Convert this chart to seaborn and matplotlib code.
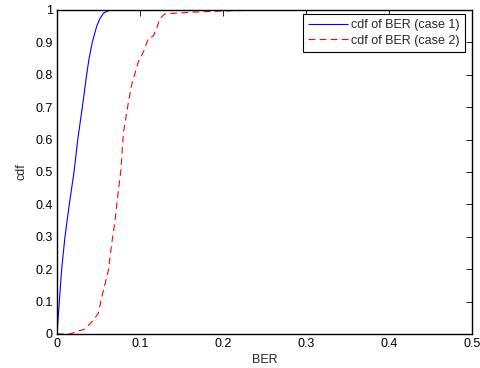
import numpy as np
import pandas as pd
import seaborn as sns
import matplotlib
matplotlib.use("Agg")
import matplotlib.pyplot as plt

ber_case1 = [0.0, 0.0028, 0.0056, 0.0096, 0.0148, 0.0205, 0.025, 0.0305, 0.0357,
             0.0386, 0.0425, 0.0478, 0.052, 0.056, 0.061, 0.066, 0.07, 0.5]
cdf_case1 = [0.0, 0.1, 0.2, 0.3, 0.4, 0.5, 0.6, 0.7, 0.8,
             0.85, 0.9, 0.95, 0.975, 0.99, 0.997, 1.0, 1.0, 1.0]

ber_case2 = [0.0, 0.0157, 0.024, 0.0337, 0.0438, 0.0498, 0.054, 0.058, 0.062, 0.066,
             0.070, 0.074, 0.077, 0.080, 0.085, 0.090, 0.098, 0.104, 0.110, 0.116,
             0.120, 0.124, 0.130, 0.16, 0.2, 0.25, 0.5]
cdf_case2 = [0.0, 0.0, 0.008, 0.015, 0.043, 0.064, 0.115, 0.156, 0.198, 0.28,
             0.352, 0.444, 0.506, 0.62, 0.70, 0.77, 0.84, 0.87, 0.912, 0.92,
             0.943, 0.974, 0.988, 0.993, 0.997, 1.0, 1.0]

labels = ["cdf of BER (case 1)", "cdf of BER (case 2)"]
xtick_labels = ["0", "0.1", "0.2", "0.3", "0.4", "0.5"]
ytick_labels = ["0", "0.1", "0.2", "0.3", "0.4", "0.5", "0.6", "0.7", "0.8", "0.9", "1"]

df = pd.concat([
    pd.DataFrame({"BER": ber_case1, "cdf": cdf_case1, "series": labels[0]}),
    pd.DataFrame({"BER": ber_case2, "cdf": cdf_case2, "series": labels[1]}),
])

sns.set_style("white")
plt.rcParams['font.family'] = ['Liberation Sans', 'DejaVu Sans']

fig = plt.figure(figsize=(4.81, 3.68), dpi=100)
ax = fig.add_axes([57/481, 1-334/368, (472-57)/481, (334-10)/368])

sns.lineplot(data=df, x="BER", y="cdf", hue="series", style="series",
             palette=["#0000ff", "#ff0000"], dashes=[(1, 0), (6, 4)],
             linewidth=0.8, ax=ax, sort=False, estimator=None)

ax.set_xlim(0, 0.5)
ax.set_ylim(0, 1)
ax.set_xticks(np.linspace(0, 0.5, len(xtick_labels)))
ax.set_xticklabels(xtick_labels)
ax.set_yticks(np.linspace(0, 1, len(ytick_labels)))
ax.set_yticklabels(ytick_labels)
ax.tick_params(direction="in", top=True, right=True, length=4, width=0.6,
               labelsize=9, colors="black", pad=3)
for s in ax.spines.values():
    s.set_visible(True)
    s.set_color("black")
    s.set_linewidth(1.0)
ax.set_xlabel("BER", fontsize=9, labelpad=3)
ax.set_ylabel("cdf", fontsize=9, labelpad=6)

leg = ax.legend(loc="upper right", bbox_to_anchor=(0.983, 0.988), borderaxespad=0,
                fontsize=9, frameon=True, fancybox=False,
                edgecolor="black", framealpha=1,
                handlelength=3.2, handletextpad=0.3, borderpad=0.4, labelspacing=0.3)
leg.get_frame().set_linewidth(0.8)

fig.savefig("out.png", dpi=100)
